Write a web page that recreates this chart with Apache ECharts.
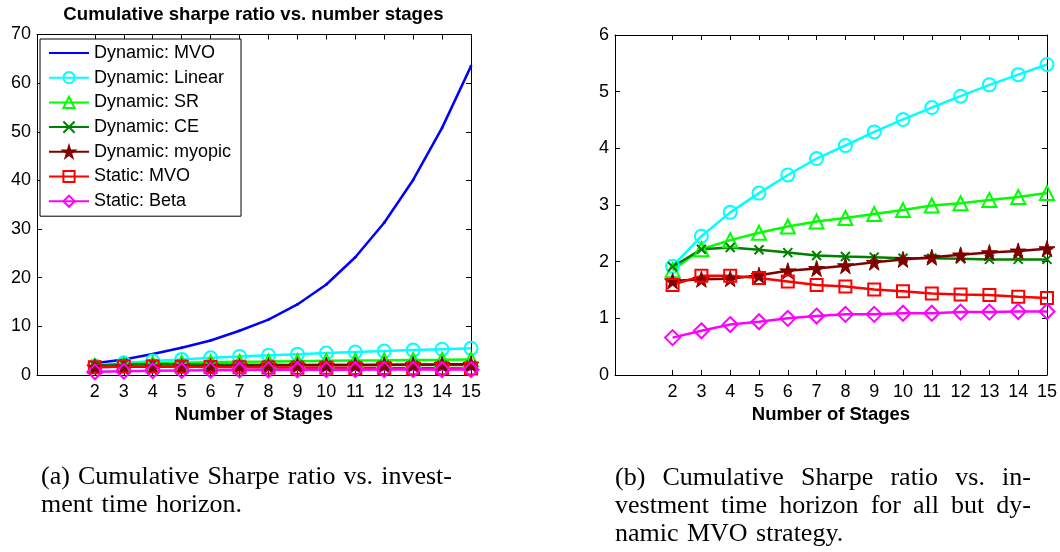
<!DOCTYPE html>
<html><head><meta charset="utf-8">
<script src="https://cdn.jsdelivr.net/npm/echarts@6/dist/echarts.min.js"></script>
<style>html,body{margin:0;padding:0;background:#fff}#c{width:1060px;height:552px}</style>
</head><body><div id="c"></div>
<script>
// ---- data ----
const stages = [2, 3, 4, 5, 6, 7, 8, 9, 10, 11, 12, 13, 14, 15];
const dynMVO    = [2.4, 3.2, 4.3, 5.6, 7.1, 9.1, 11.4, 14.5, 18.6, 24.2, 31.3, 40.1, 50.8, 63.5];
const dynLinear = [1.92, 2.45, 2.87, 3.21, 3.53, 3.82, 4.05, 4.29, 4.51, 4.72, 4.92, 5.12, 5.30, 5.48];
const dynSR     = [1.85, 2.22, 2.38, 2.51, 2.62, 2.71, 2.77, 2.84, 2.91, 2.99, 3.03, 3.09, 3.14, 3.21];
const dynCE     = [1.91, 2.22, 2.25, 2.21, 2.16, 2.11, 2.09, 2.08, 2.06, 2.06, 2.05, 2.04, 2.04, 2.04];
const dynMyopic = [1.66, 1.69, 1.70, 1.76, 1.84, 1.88, 1.93, 1.99, 2.04, 2.08, 2.12, 2.16, 2.19, 2.23];
const statMVO   = [1.59, 1.75, 1.75, 1.71, 1.65, 1.59, 1.56, 1.51, 1.48, 1.44, 1.42, 1.41, 1.38, 1.36];
const statBeta  = [0.66, 0.78, 0.89, 0.94, 1.00, 1.04, 1.07, 1.07, 1.09, 1.09, 1.11, 1.11, 1.12, 1.12];
const seriesNames = ['Dynamic: MVO', 'Dynamic: Linear', 'Dynamic: SR', 'Dynamic: CE', 'Dynamic: myopic', 'Static: MVO', 'Static: Beta'];
const titleText = 'Cumulative sharpe ratio vs. number stages';
const xName = 'Number of Stages';
const captionA = ['(a) Cumulative Sharpe ratio vs. invest-', 'ment time horizon.'];
const captionB = ['(b) Cumulative Sharpe ratio vs.  in-', 'vestment time horizon for all but dy-', 'namic MVO strategy.'];

// ---- styles ----
const SANS = '"Liberation Sans", Arial, sans-serif';
const SERIF_FONT = '26px "Liberation Serif"';
const LW = 2.5;
const styles = [
  { color: '#0000ff', symbol: 'path://M0,0M20,20M8,10A2,2,0,1,0,12,10A2,2,0,1,0,8,10Z', size: 14, fill: '#0000ff' },
  { color: '#00ffff', symbol: 'circle', size: 13, fill: 'rgba(0,0,0,0)' },
  { color: '#00ff00', symbol: 'triangle', size: 14, fill: 'rgba(0,0,0,0)' },
  { color: '#008000', symbol: 'path://M0,0L10,10M10,0L0,10', size: 9, fill: 'rgba(0,0,0,0)' },
  { color: '#800000', symbol: 'path://M50,0L61,35L98,35L68,57L79,91L50,70L21,91L32,57L2,35L39,35Z', size: 16, fill: '#800000' },
  { color: '#ff0000', symbol: 'rect', size: 12, fill: 'rgba(0,0,0,0)' },
  { color: '#ff00ff', symbol: 'diamond', size: 15, fill: 'rgba(0,0,0,0)' }
];
const allData = [dynMVO, dynLinear, dynSR, dynCE, dynMyopic, statMVO, statBeta];

function mkSeries(i, axisIdx) {
  const s = styles[i];
  return {
    type: 'line', name: seriesNames[i],
    xAxisIndex: axisIdx, yAxisIndex: axisIdx,
    data: stages.map((x, k) => [x, allData[i][k]]),
    symbol: s.symbol, symbolSize: s.size, showSymbol: true,
    lineStyle: { color: s.color, width: LW },
    itemStyle: { color: s.fill, borderColor: s.color, borderWidth: (i === 0 ? 0 : (i === 4 ? 1 : 2)) },
    emphasis: { disabled: true }, silent: true, clip: false
  };
}

function xAxisDef(grid, isMirror) {
  return {
    type: 'value', gridIndex: grid, min: 0, max: 15, interval: 1,
    position: isMirror ? 'top' : 'bottom',
    name: isMirror ? '' : xName, nameLocation: 'middle', nameGap: 25,
    nameTextStyle: { fontFamily: SANS, fontWeight: 'bold', fontSize: 18.5, color: '#000' },
    axisLine: { show: true, onZero: false, lineStyle: { color: '#000', width: 1 } },
    axisTick: { show: true, inside: true, length: 5, customValues: stages, lineStyle: { color: '#000' } },
    axisLabel: { show: !isMirror, customValues: stages, margin: 8, fontFamily: SANS, fontSize: 18, color: '#000' },
    splitLine: { show: false }
  };
}
function yAxisDef(grid, isMirror, max, interval) {
  return {
    type: 'value', gridIndex: grid, min: 0, max: max, interval: interval,
    position: isMirror ? 'right' : 'left',
    axisLine: { show: true, onZero: false, lineStyle: { color: '#000', width: 1 } },
    axisTick: { show: true, inside: true, length: 5, lineStyle: { color: '#000' } },
    axisLabel: { show: !isMirror, margin: 6, fontFamily: SANS, fontSize: 18, color: '#000' },
    splitLine: { show: false }
  };
}

// caption text, justified word by word
const ctx = document.createElement('canvas').getContext('2d');
function captionLine(text, x0, x1, y, justify) {
  ctx.font = SERIF_FONT;
  const words = text.split(/\s+/);
  const widths = words.map(w => ctx.measureText(w).width);
  const total = widths.reduce((a, b) => a + b, 0);
  const gap = justify ? (x1 - x0 - total) / (words.length - 1) : ctx.measureText(' ').width * 1.3;
  let x = x0;
  return words.map((w, k) => {
    const el = { type: 'text', x: x, y: y, silent: true,
      style: { text: w, font: SERIF_FONT, fill: '#000', align: 'left', verticalAlign: 'middle', textAlign: 'left', textVerticalAlign: 'middle' } };
    x += widths[k] + gap;
    return el;
  });
}

const graphics = [
  { type: 'text', x: 253.5, y: 15, silent: true,
    style: { text: titleText, font: 'bold 18.6px ' + SANS, fill: '#000', align: 'center', verticalAlign: 'middle', textAlign: 'center', textVerticalAlign: 'middle' } }
].concat(
  captionLine(captionA[0], 41, 452, 477, true),
  captionLine(captionA[1], 41, 452, 505, false),
  captionLine(captionB[0], 615, 1031, 478, true),
  captionLine(captionB[1], 615, 1031, 506, true),
  captionLine(captionB[2], 615, 1031, 534, false)
);

const chart = echarts.init(document.getElementById('c'), null, { renderer: 'canvas' });
chart.setOption({
  animation: false,
  backgroundColor: '#fff',
  grid: [
    { left: 37, top: 34.5, width: 434, height: 340.5 },
    { left: 615, top: 35, width: 435, height: 340 }
  ],
  xAxis: [xAxisDef(0, false), xAxisDef(0, true), xAxisDef(1, false), xAxisDef(1, true)],
  yAxis: [yAxisDef(0, false, 70, 10), yAxisDef(0, true, 70, 10), yAxisDef(1, false, 6, 1), yAxisDef(1, true, 6, 1)],
  legend: {
    data: seriesNames, orient: 'vertical', left: 40, top: 39,
    backgroundColor: '#fff', borderColor: '#000', borderWidth: 1, borderRadius: 0,
    padding: [5, 10, 6, 8], itemWidth: 40, itemHeight: 14, itemGap: 6.7,
    selectedMode: false,
    textStyle: { fontFamily: SANS, fontSize: 18, color: '#000', lineHeight: 18 }
  },
  graphic: graphics,
  series: [0, 1, 2, 3, 4, 5, 6].map(i => mkSeries(i, 0)).concat(
          [1, 2, 3, 4, 5, 6].map(i => mkSeries(i, 2)))
});
</script>
</body></html>
